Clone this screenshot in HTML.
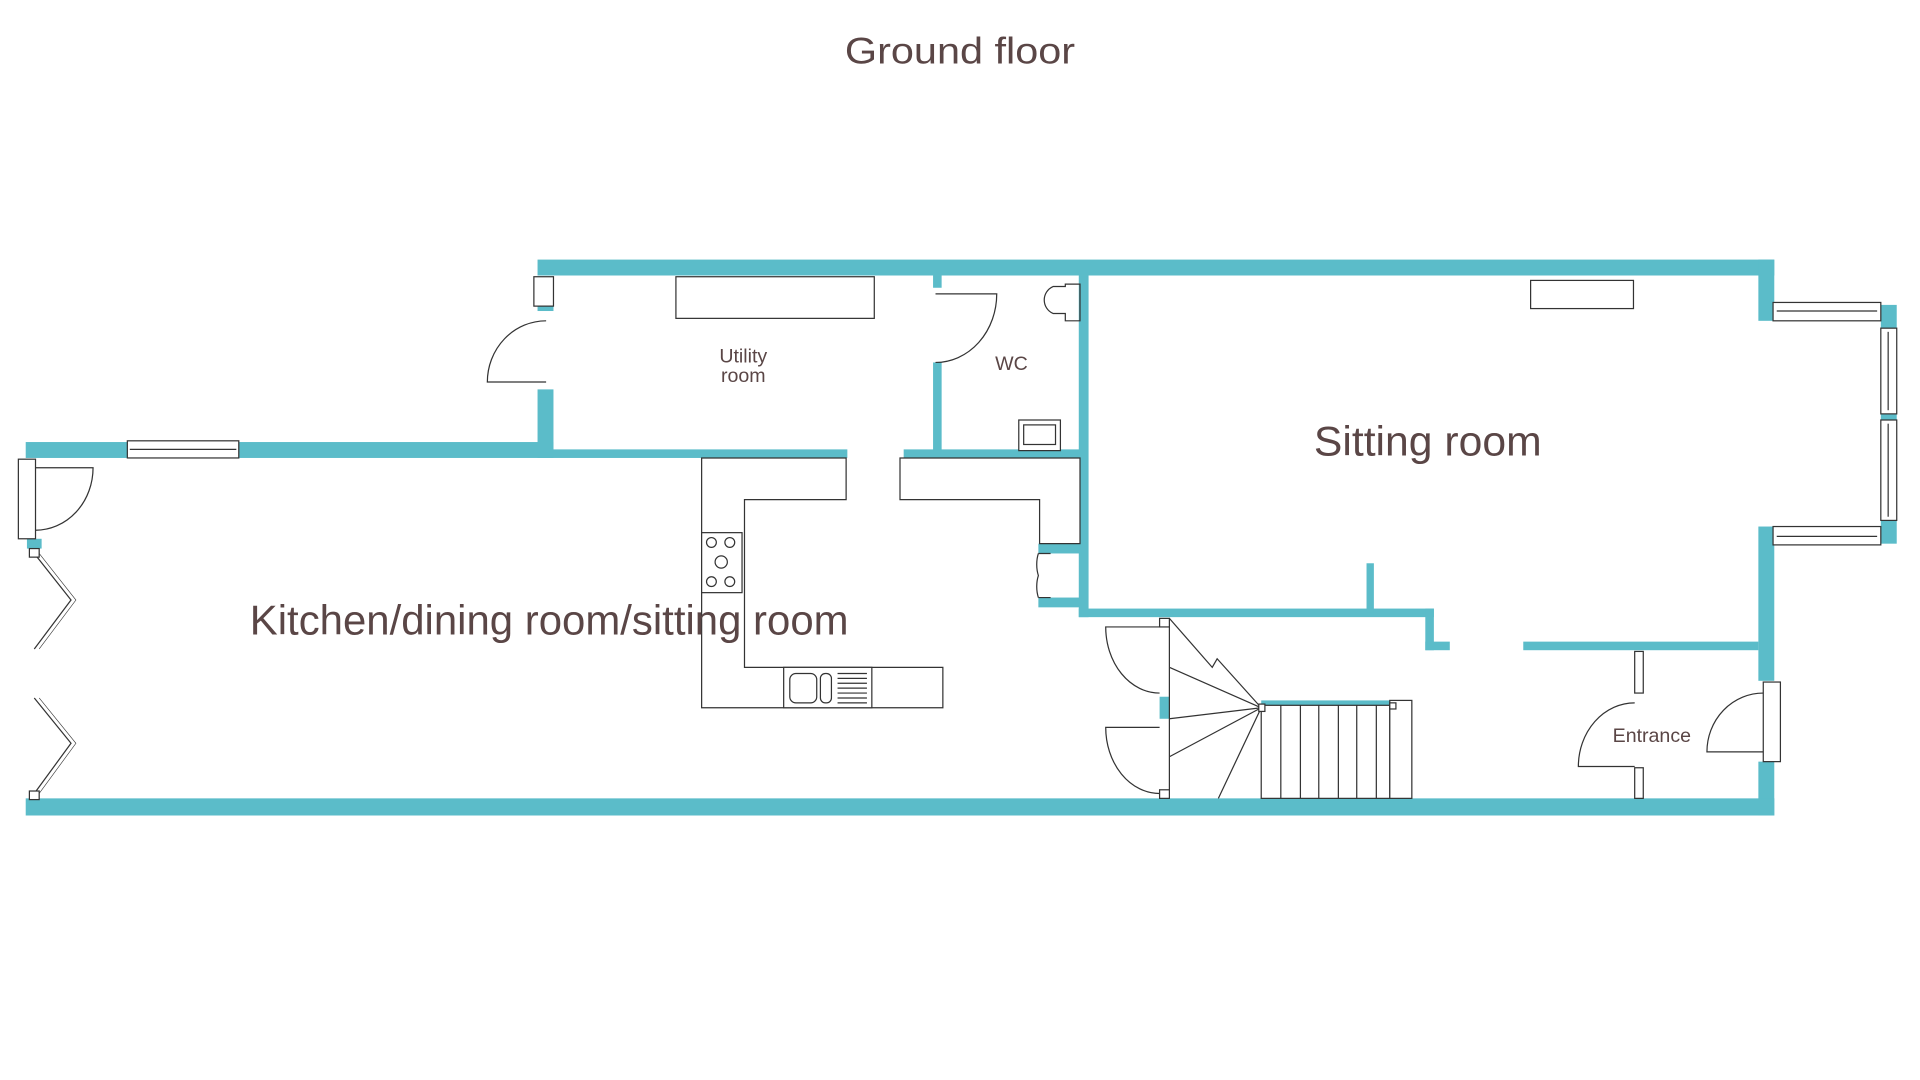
<!DOCTYPE html>
<html><head><meta charset="utf-8"><style>
html,body{margin:0;padding:0;background:#fff;}
svg{display:block;}
text{font-family:"Liberation Sans",sans-serif;fill:#5a4646;}
</style></head><body>
<svg width="1920" height="1080" viewBox="0 0 1568 882" preserveAspectRatio="none" xmlns="http://www.w3.org/2000/svg">
<text x="784" y="52" font-size="30" text-anchor="middle" textLength="188" lengthAdjust="spacingAndGlyphs">Ground floor</text>
<g fill="#5bbcc9">
<rect x="439" y="212" width="1010" height="13"/>
<rect x="1436" y="212" width="13" height="50"/>
<rect x="1436" y="430" width="13" height="126"/>
<rect x="1436" y="622" width="13" height="44"/>
<rect x="1536" y="249" width="13" height="195"/>
<rect x="21" y="652" width="1428" height="14"/>
<rect x="21" y="361" width="431" height="13"/>
<rect x="439" y="318" width="13" height="56"/>
<rect x="439" y="248" width="13" height="6"/>
<rect x="452" y="367" width="240" height="7"/>
<rect x="738" y="367" width="144" height="7"/>
<rect x="762" y="296" width="7" height="72"/>
<rect x="762" y="225" width="7" height="10"/>
<rect x="881" y="225" width="8" height="279"/>
<rect x="881" y="497" width="290" height="7"/>
<rect x="1116" y="460" width="6" height="40"/>
<rect x="1164" y="497" width="7" height="34"/>
<rect x="1164" y="524" width="20" height="7"/>
<rect x="1244" y="524" width="192" height="7"/>
<rect x="22" y="440" width="12" height="8"/>
<rect x="848" y="444" width="34" height="8"/>
<rect x="848" y="488" width="34" height="8"/>
<rect x="947" y="569" width="8" height="18"/>
<rect x="1030" y="572" width="105" height="4"/>
</g>
<g fill="#fff" stroke="#333" stroke-width="1">
<!-- windows -->
<rect x="104" y="360" width="91" height="14"/>
<line x1="106" y1="367" x2="193" y2="367"/>
<rect x="436" y="226" width="16" height="24"/>
<rect x="1448" y="247" width="88" height="15"/><line x1="1451" y1="254" x2="1533" y2="254"/>
<rect x="1448" y="430" width="88" height="15"/><line x1="1451" y1="438" x2="1533" y2="438"/>
<rect x="1536" y="268" width="13" height="70"/><line x1="1542" y1="271" x2="1542" y2="335"/>
<rect x="1536" y="343" width="13" height="82"/><line x1="1542" y1="346" x2="1542" y2="422"/>
<!-- kitchen door frame -->
<rect x="15" y="375" width="14" height="65"/>
<rect x="1440" y="557" width="14" height="65"/>
<rect x="1335" y="532" width="7" height="34"/>
<rect x="1335" y="627" width="7" height="25"/>
<!-- furniture -->
<rect x="552" y="226" width="162" height="34"/>
<rect x="1250" y="229" width="84" height="23"/>
<path d="M573 374 H691 V408 H608 V545 H770 V578 H573 Z"/>
<path d="M735 374 H882 V444 H849 V408 H735 Z"/>
<rect x="573" y="435" width="33" height="49"/>
<rect x="640" y="545" width="72" height="33"/>
<rect x="832" y="343" width="34" height="25"/>
<rect x="836" y="347" width="26" height="16"/>
<!-- stairs -->
<rect x="1030" y="576" width="105" height="76"/>
<rect x="1135" y="572" width="18" height="80"/>
</g>
<g fill="none" stroke="#333" stroke-width="1">
<!-- hob -->
<circle cx="581" cy="443" r="4"/><circle cx="596" cy="443" r="4"/><circle cx="589" cy="459" r="5"/>
<circle cx="581" cy="475" r="4"/><circle cx="596" cy="475" r="4"/>
<!-- sink -->
<rect x="645" y="550" width="22" height="24" rx="5"/><rect x="670" y="550" width="9" height="24" rx="4"/>
<path d="M684 550 H708 M684 554 H708 M684 558 H708 M684 562 H708 M684 566 H708 M684 570 H708 M684 574 H708"/>
<!-- toilet -->
<path d="M870 232 H882 V262 H870 V256 H860 A12 12 0 0 1 860 234 H870 Z"/>
<!-- doors -->
<path d="M446 262 A48 50 0 0 0 398 312 H446"/>
<path d="M764 240 H814 A50 56 0 0 1 764 296"/>
<path d="M29 382 H76 A47 51 0 0 1 29 433"/>
<path d="M28 452 L58 490 L28 530"/><path d="M32 452 L62 490 L32 530" stroke-width="0.5"/>
<path d="M28 570 L58 607 L28 648"/><path d="M32 570 L62 607 L32 648" stroke-width="0.5"/>
<path d="M947 512 H903 A44 54 0 0 0 947 566"/>
<path d="M947 594 H903 A44 54 0 0 0 947 648"/>
<path d="M1335 574 A46 52 0 0 0 1289 626 H1335"/>
<path d="M1440 566 A46 48 0 0 0 1394 614 H1440"/>
<path d="M848 452 A10 18 0 0 0 848 470 A10 18 0 0 0 848 488 M848 452 H858 M848 488 H858"/>
<!-- winders -->
<line x1="955" y1="505" x2="955" y2="652"/>
<path d="M955 505 L990 545 L994 538 L1030 578"/>
<line x1="955" y1="545" x2="1030" y2="578"/>
<line x1="955" y1="587" x2="1030" y2="578"/>
<line x1="955" y1="618" x2="1030" y2="578"/>
<line x1="995" y1="652" x2="1030" y2="578"/>
<path d="M1046 576 V652 M1062 576 V652 M1077 576 V652 M1093 576 V652 M1108 576 V652 M1124 576 V652"/>
</g>
<g fill="#fff" stroke="#333" stroke-width="1">
<rect x="1028" y="575" width="5" height="6"/><rect x="1135" y="574" width="5" height="5"/>
<rect x="947" y="505" width="8" height="7"/><rect x="947" y="645" width="8" height="7"/>
<rect x="24" y="646" width="8" height="7"/><rect x="24" y="448" width="8" height="7"/>
</g>
<text x="204" y="518" font-size="34" textLength="489" lengthAdjust="spacingAndGlyphs">Kitchen/dining room/sitting room</text>
<text x="1073" y="372" font-size="34" textLength="186" lengthAdjust="spacingAndGlyphs">Sitting room</text>
<text x="607" y="296" font-size="16" text-anchor="middle">Utility</text>
<text x="607" y="312" font-size="16" text-anchor="middle">room</text>
<text x="826" y="302" font-size="16" text-anchor="middle">WC</text>
<text x="1349" y="606" font-size="16" text-anchor="middle">Entrance</text>
</svg>
</body></html>
